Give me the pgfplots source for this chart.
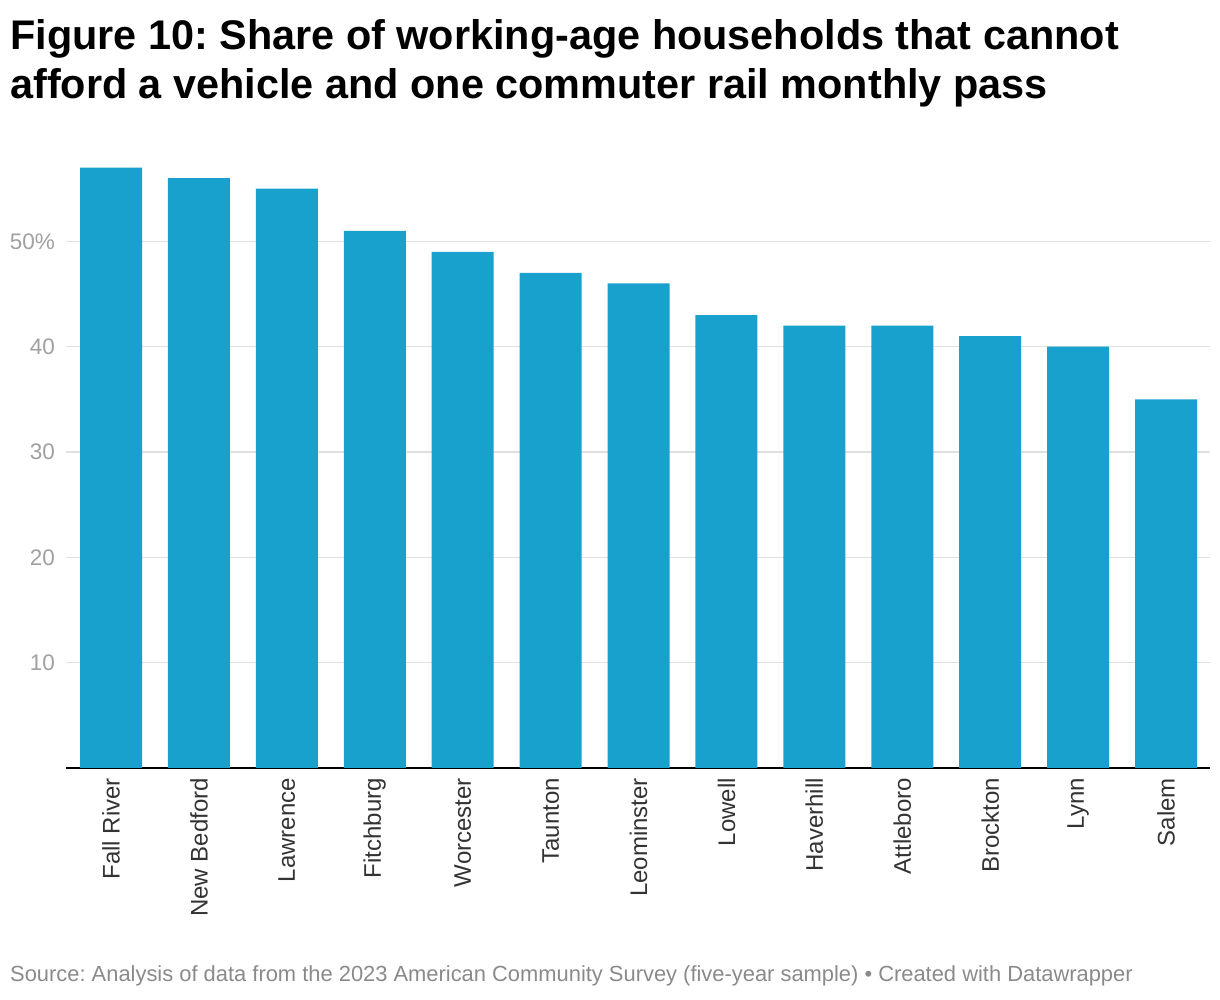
\documentclass[border=0pt]{standalone}
\usepackage{fontspec}
\setmainfont{Liberation Sans}
\usepackage{pgfplots}
\pgfplotsset{compat=1.18}
\frenchspacing
\definecolor{barblue}{HTML}{18A1CD}
\definecolor{gridgray}{HTML}{E0E0E0}
\definecolor{ticklab}{HTML}{A0A0A0}
\definecolor{xlab}{HTML}{333333}
\definecolor{srcgray}{HTML}{8A8A8A}
\begin{document}
\begin{tikzpicture}[x=1pt,y=1pt]
\path[use as bounding box] (0,0) rectangle (1220,1000);
\node[anchor=base west, inner sep=0, font=\fontsize{41.4}{48}\selectfont\bfseries] at (10,950) {Figure 10: Share of working-age households that cannot};
\node[anchor=base west, inner sep=0, font=\fontsize{41.4}{48}\selectfont\bfseries] at (10,901) {afford a vehicle and one commuter rail monthly pass};
\begin{axis}[
  at={(66pt,232pt)}, anchor=south west, scale only axis,
  width=1144pt, height=632pt,
  xmin=-0.512, xmax=12.5, ymin=0, ymax=60,
  ybar, bar width=62pt, bar shift=0pt,
  axis lines*=left,
  x axis line style={black, line width=2pt, -},
  y axis line style={draw=none},
  major tick length=0pt,
  ytick={10,20,30,40,50},
  yticklabels={10,20,30,40,50\%},
  yticklabel style={anchor=east, inner sep=0pt, text=ticklab, font=\fontsize{22.5}{23}\selectfont},
  yticklabel shift=11pt,
  ymajorgrids, grid style={gridgray, line width=1.6pt},
  xtick={0,1,2,3,4,5,6,7,8,9,10,11,12},
  xticklabels={Fall River,New Bedford,Lawrence,Fitchburg,Worcester,Taunton,Leominster,Lowell,Haverhill,Attleboro,Brockton,Lynn,Salem},
  xticklabel style={rotate=90, anchor=east, inner sep=0pt, text=xlab, font=\fontsize{24}{24}\selectfont},
  xticklabel shift=10pt,
]
\addplot[fill=barblue, draw=none] coordinates {(0,57) (1,56) (2,55) (3,51) (4,49) (5,47) (6,46) (7,43) (8,42) (9,42) (10,41) (11,40) (12,35)};
\end{axis}
\node[anchor=base west, inner sep=0, text=srcgray, font=\fontsize{21.9}{24}\selectfont] at (10,18) {Source: Analysis of data from the 2023 American Community Survey (five-year sample) • Created with Datawrapper};
\end{tikzpicture}
\end{document}
